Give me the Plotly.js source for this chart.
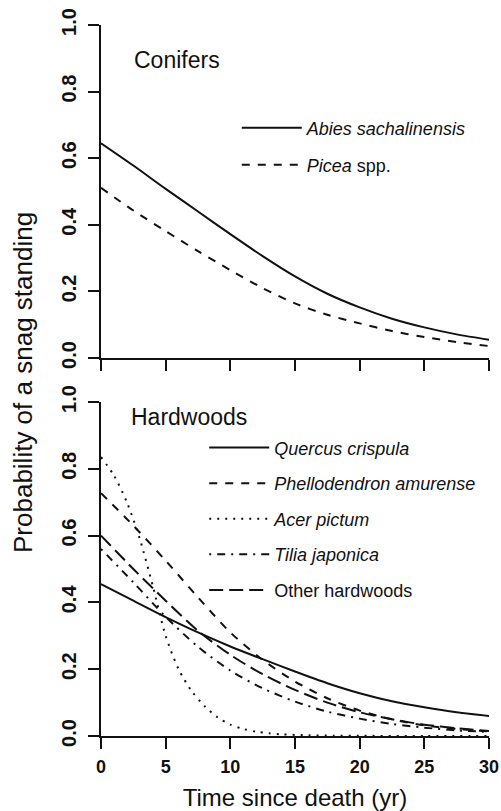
<!DOCTYPE html>
<html>
<head>
<meta charset="utf-8">
<script src="https://cdn.plot.ly/plotly-3.0.1.min.js"></script>
<style>
  html, body { margin: 0; padding: 0; background: #ffffff; }
  #chart { width: 501px; height: 811px; }
</style>
</head>
<body>
<div id="chart"></div>
<script>
// ---- data ----
const yearsCoarse = [0, 2.5, 5, 7.5, 10, 12.5, 15, 17.5, 20, 22.5, 25, 27.5, 30];
const yearsFine   = [0, 1, 2, 3, 4, 5, 6, 7, 8, 9, 10, 11, 12, 13, 14, 16, 18, 20, 25, 30];

// Conifers
const abies = [0.645, 0.578, 0.508, 0.440, 0.372, 0.306, 0.245, 0.193, 0.152, 0.118, 0.092, 0.071, 0.055];
const picea = [0.511, 0.443, 0.381, 0.321, 0.264, 0.210, 0.164, 0.130, 0.104, 0.081, 0.063, 0.048, 0.036];

// Hardwoods
const quercus       = [0.455, 0.405, 0.356, 0.310, 0.268, 0.230, 0.193, 0.158, 0.128, 0.104, 0.086, 0.071, 0.060];
const phellodendron = [0.727, 0.630, 0.525, 0.415, 0.310, 0.228, 0.163, 0.113, 0.076, 0.050, 0.032, 0.021, 0.014];
const acer          = [0.835, 0.780, 0.700, 0.590, 0.450, 0.300, 0.200, 0.135, 0.090, 0.056, 0.034, 0.021, 0.013, 0.008, 0.005, 0.002, 0.001, 0.0005, 0.0001, 0.0];
const tilia         = [0.560, 0.460, 0.357, 0.267, 0.196, 0.143, 0.103, 0.073, 0.052, 0.036, 0.025, 0.017, 0.012];
const other         = [0.600, 0.500, 0.405, 0.315, 0.243, 0.185, 0.138, 0.100, 0.071, 0.050, 0.034, 0.023, 0.015];

const xTicks = [0, 5, 10, 15, 20, 25, 30];
const yTicks = [0, 0.2, 0.4, 0.6, 0.8, 1.0];

const panelLabels = ["Conifers", "Hardwoods"];
const xTitle = "Time since death (yr)";
const yTitle = "Probability of a snag standing";

// ---- styling ----
const FONT = "Liberation Sans, Arial, Helvetica, sans-serif";
const INK = "#111111";
const LW = 2;

function tr(x, y, name, dash, xa, ya, legend) {
  return {
    type: "scatter", mode: "lines", x: x, y: y, name: name,
    xaxis: xa, yaxis: ya, legend: legend,
    legendgroup: name,
    line: { color: INK, width: LW, dash: dash, shape: "spline", smoothing: 0.8 },
    hoverinfo: "skip"
  };
}

const traces = [
  tr(yearsCoarse, abies, "<i>Abies sachalinensis</i>", "solid", "x", "y", "legend"),
  tr(yearsCoarse, picea, "<i>Picea</i> spp.", "8px,8px", "x", "y", "legend"),
  tr(yearsCoarse, quercus, "<i>Quercus crispula</i>", "solid", "x2", "y2", "legend2"),
  tr(yearsCoarse, phellodendron, "<i>Phellodendron amurense</i>", "8px,8px", "x2", "y2", "legend2"),
  tr(yearsFine, acer, "<i>Acer pictum</i>", "2px,6px", "x2", "y2", "legend2"),
  tr(yearsCoarse, tilia, "<i>Tilia japonica</i>", "2px,6px,8px,6px", "x2", "y2", "legend2"),
  tr(yearsCoarse, other, "Other hardwoods", "14px,6px", "x2", "y2", "legend2")
];

const xBase = {
  range: [0, 30], tickmode: "array", tickvals: xTicks,
  showline: true, linewidth: LW, linecolor: INK,
  ticks: "outside", ticklen: 11, tickwidth: LW, tickcolor: INK,
  showgrid: false, zeroline: false, fixedrange: true,
  domain: [0, 1]
};
const yBase = {
  range: [0, 1], tickmode: "array", tickvals: yTicks, tickformat: ".1f",
  showline: true, linewidth: LW, linecolor: INK,
  ticks: "outside", ticklen: 11, tickwidth: LW, tickcolor: INK,
  showgrid: false, zeroline: false, fixedrange: true,
  tickangle: -90, ticklabelstandoff: 4,
  tickfont: { family: "Liberation Sans Narrow, " + FONT, size: 20, color: INK, weight: "bold" }
};

const legendBase = {
  xanchor: "left", yanchor: "top",
  bgcolor: "rgba(0,0,0,0)", borderwidth: 0,
  font: { family: FONT, size: 18, color: INK },
  traceorder: "grouped", itemwidth: 60
};

const layout = {
  width: 501, height: 811,
  margin: { l: 101, r: 12, t: 25, b: 75 },
  paper_bgcolor: "#ffffff", plot_bgcolor: "#ffffff",
  font: { family: FONT, color: INK },
  xaxis: Object.assign({}, xBase, { anchor: "y", showticklabels: false }),
  yaxis: Object.assign({}, yBase, { anchor: "x", domain: [0.5316, 1] }),
  xaxis2: Object.assign({}, xBase, {
    anchor: "y2", showticklabels: true, ticklabelstandoff: 2,
    tickfont: { family: FONT, size: 18, color: INK, weight: "bold" },
    title: { text: xTitle, font: { family: FONT, size: 24, color: INK }, standoff: 14 }
  }),
  yaxis2: Object.assign({}, yBase, { anchor: "x2", domain: [0, 0.4698] }),
  showlegend: true,
  legend: Object.assign({}, legendBase, { x: 0.350, y: 0.881, tracegroupgap: 10.5 }),
  legend2: Object.assign({}, legendBase, { x: 0.266, y: 0.4313, tracegroupgap: 9.2 }),
  annotations: [
    { text: panelLabels[0], xref: "paper", yref: "paper", x: 0.0799, y: 0.9508,
      xanchor: "left", yanchor: "middle", showarrow: false,
      font: { family: FONT, size: 23, color: INK } },
    { text: panelLabels[1], xref: "paper", yref: "paper", x: 0.0714, y: 0.4490,
      xanchor: "left", yanchor: "middle", showarrow: false,
      font: { family: FONT, size: 23, color: INK } },
    { text: yTitle, xref: "paper", yref: "paper", x: -0.2010, y: 0.4965,
      xanchor: "center", yanchor: "middle", textangle: -90, showarrow: false,
      font: { family: FONT, size: 26, color: INK } }
  ]
};

Plotly.newPlot("chart", traces, layout, { displayModeBar: false, staticPlot: true });
</script>
</body>
</html>
